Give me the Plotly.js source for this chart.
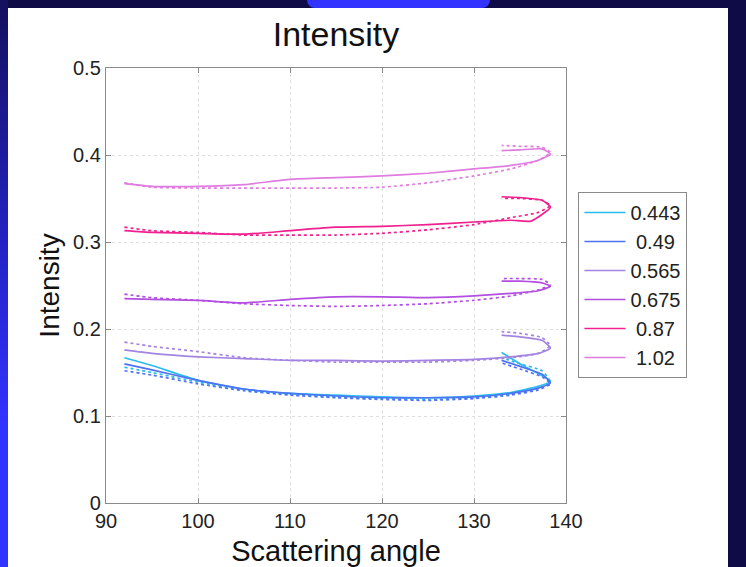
<!DOCTYPE html>
<html>
<head>
<meta charset="utf-8">
<script src="https://cdn.plot.ly/plotly-3.0.1.min.js"></script>
<style>
  html, body { margin: 0; padding: 0; width: 746px; height: 567px; overflow: hidden; background: #0e0b47; }
  #sideband { position: absolute; left: 0; top: 0; width: 8px; height: 567px;
              background: linear-gradient(#14105e 0%, #2424c8 45%, #3333ff 75%, #3333ff 100%); }
  #tab { position: absolute; left: 307px; top: 0; width: 183px; height: 8px;
         background: #3333ff; border-radius: 0 0 9px 9px; }
  #panel { position: absolute; left: 8px; top: 8px; width: 720px; height: 559px; background: #ffffff; }
  #chart { position: absolute; left: 0; top: 0; width: 746px; height: 567px; }
</style>
</head>
<body>
<div id="sideband"></div>
<div id="tab"></div>
<div id="panel"></div>
<div id="chart"></div>
<script>
// Wavelength labels of the six series
const seriesNames = ['0.443', '0.49', '0.565', '0.675', '0.87', '1.02'];

// Scattering angles along each curve (outward branch, turn, return branch)
const angleCommon = [92, 95, 100, 105, 110, 115, 120, 125, 130, 134, 137, 138.3, 137.4, 135, 133];
const angle087Solid = [92, 95, 100, 105, 110, 115, 120, 125, 130, 134, 136.2, 138.3, 137.4, 135, 133];
const angle0443Solid = [92, 95, 100, 105, 110, 115, 120, 125, 130, 134, 137, 138.3, 135.5, 133];

// Intensity, solid curves
const solid0443 = [0.167, 0.158, 0.141, 0.131, 0.126, 0.124, 0.122, 0.121, 0.123, 0.127, 0.134, 0.140, 0.157, 0.173];
const solid049  = [0.160, 0.153, 0.141, 0.131, 0.126, 0.123, 0.121, 0.121, 0.122, 0.126, 0.132, 0.138, 0.148, 0.157, 0.164];
const solid0565 = [0.176, 0.172, 0.168, 0.166, 0.164, 0.164, 0.163, 0.164, 0.165, 0.168, 0.172, 0.178, 0.187, 0.191, 0.193];
const solid0675 = [0.235, 0.234, 0.233, 0.230, 0.234, 0.237, 0.237, 0.236, 0.238, 0.241, 0.244, 0.249, 0.253, 0.255, 0.255];
const solid087  = [0.313, 0.311, 0.310, 0.309, 0.313, 0.317, 0.318, 0.320, 0.323, 0.325, 0.324, 0.340, 0.348, 0.351, 0.352];
const solid102  = [0.367, 0.364, 0.364, 0.366, 0.372, 0.374, 0.376, 0.379, 0.384, 0.388, 0.394, 0.401, 0.407, 0.406, 0.405];

// Intensity, dotted curves
const dotted0443 = [0.156, 0.150, 0.139, 0.130, 0.125, 0.122, 0.120, 0.119, 0.121, 0.125, 0.132, 0.139, 0.152, 0.160, 0.167];
const dotted049  = [0.152, 0.147, 0.137, 0.129, 0.124, 0.121, 0.119, 0.118, 0.120, 0.124, 0.130, 0.137, 0.145, 0.154, 0.161];
const dotted0565 = [0.185, 0.180, 0.174, 0.167, 0.164, 0.162, 0.162, 0.162, 0.164, 0.167, 0.172, 0.181, 0.190, 0.195, 0.197];
const dotted0675 = [0.240, 0.236, 0.233, 0.229, 0.227, 0.226, 0.227, 0.229, 0.233, 0.238, 0.245, 0.251, 0.257, 0.258, 0.258];
const dotted087  = [0.317, 0.313, 0.311, 0.308, 0.308, 0.308, 0.310, 0.314, 0.320, 0.328, 0.334, 0.342, 0.348, 0.350, 0.350];
const dotted102  = [0.368, 0.363, 0.362, 0.362, 0.362, 0.362, 0.363, 0.368, 0.376, 0.384, 0.394, 0.403, 0.409, 0.410, 0.411];

const seriesColors = ['#2bbcee', '#4f72f2', '#a384e2', '#b24ee0', '#f0208e', '#e07ce0'];

const solidX = [angle0443Solid, angleCommon, angleCommon, angleCommon, angle087Solid, angleCommon];
const solidY = [solid0443, solid049, solid0565, solid0675, solid087, solid102];
const dottedY = [dotted0443, dotted049, dotted0565, dotted0675, dotted087, dotted102];

const FONT = 'Liberation Sans, Arial, Helvetica, sans-serif';
const traces = [];
seriesNames.forEach((name, i) => {
  traces.push({
    x: solidX[i], y: solidY[i], type: 'scatter', mode: 'lines',
    name: (name.length < 5 ? '\u00a0' : '') + name,
    legendgroup: 'g' + i,
    line: { color: seriesColors[i], width: 1.7, shape: 'spline', smoothing: 0.5 },
    hoverinfo: 'skip'
  });
  traces.push({
    x: angleCommon, y: dottedY[i], type: 'scatter', mode: 'lines',
    name: name, legendgroup: 'g' + i, showlegend: false,
    line: { color: seriesColors[i], width: 1.7, dash: 'dot', shape: 'spline', smoothing: 0.5 },
    hoverinfo: 'skip'
  });
});

const axisCommon = {
  showline: true, linecolor: '#8a8a8a', linewidth: 1.2, mirror: 'ticks',
  ticks: 'inside', ticklen: 5, tickcolor: '#8a8a8a', tickwidth: 1,
  showgrid: true, gridcolor: '#dedede', griddash: 'dot', gridwidth: 1,
  zeroline: false,
  tickfont: { family: FONT, size: 20, color: '#222' }
};

const layout = {
  width: 746, height: 567,
  margin: { l: 106, r: 180, t: 68, b: 64 },
  paper_bgcolor: 'rgba(0,0,0,0)', plot_bgcolor: '#ffffff',
  font: { family: FONT, color: '#222' },
  title: { text: 'Intensity', font: { family: FONT, size: 34, color: '#111' },
           x: 0.5, xref: 'paper', xanchor: 'center', y: 1 - 34 / 567, yref: 'container', yanchor: 'middle' },
  xaxis: Object.assign({}, axisCommon, {
    range: [90, 140], dtick: 10, tick0: 90,
    title: { text: 'Scattering angle', font: { family: FONT, size: 29, color: '#111' }, standoff: 12 }
  }),
  yaxis: Object.assign({}, axisCommon, {
    range: [0, 0.5], dtick: 0.1, tick0: 0,
    title: { text: 'Intensity', font: { family: FONT, size: 28, color: '#111' }, standoff: 5 }
  }),
  showlegend: true,
  legend: {
    x: 1.027, xanchor: 'left', y: 0.715, yanchor: 'top',
    bgcolor: '#ffffff', bordercolor: '#8a8a8a', borderwidth: 1,
    font: { family: FONT, size: 20, color: '#222' },
    itemwidth: 41, traceorder: 'grouped', tracegroupgap: 0
  }
};

Plotly.newPlot('chart', traces, layout, { displayModeBar: false, staticPlot: true });
</script>
</body>
</html>
